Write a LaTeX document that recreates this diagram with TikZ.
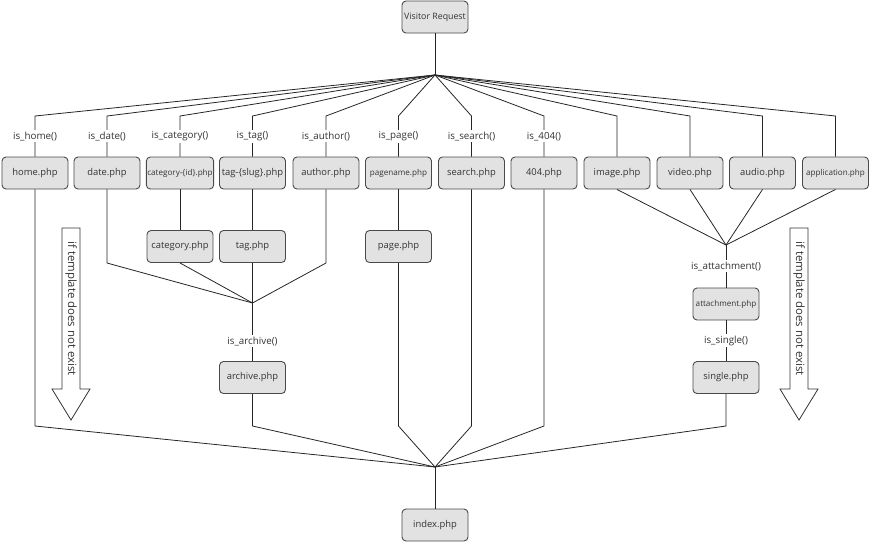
\documentclass[tikz,border=0pt]{standalone}
\usepackage{fontspec}
\setmainfont{Open Sans}
\definecolor{boxfill}{HTML}{E2E2E2}
\definecolor{boxdraw}{HTML}{4A4A4A}
\definecolor{txt}{HTML}{333333}
\begin{document}
\begin{tikzpicture}[x=1pt,y=-1pt,
  file/.style={draw=boxdraw,fill=boxfill,rounded corners=4pt,line width=0.9pt,
    minimum width=66pt,minimum height=32pt,inner sep=1pt,text=txt,font=\fontsize{9.4}{11}\selectfont},
  smallfile/.style={file,font=\fontsize{8.1}{9}\selectfont},
  lbl/.style={fill=white,inner sep=1.5pt,text=txt,font=\fontsize{9.8}{11}\selectfont},
  conn/.style={draw=black!85,line width=0.8pt},
  bigarrow/.style={draw=black!80,fill=white,line width=0.8pt}
]
\useasboundingbox (0,0) rectangle (870,542);

% nodes
\node[file,font=\fontsize{8.8}{10}\selectfont] (visitor) at (435,17) {Visitor Request};
\coordinate (hub) at (435,75);
\coordinate (elb) at (0,116);

\node[file] (home) at (35,173) {home.php};
\node[file] (date) at (107,173) {date.php};
\node[smallfile] (catid) at (180,173) {category-\{id\}.php};
\node[file] (tagslug) at (252.5,173) {tag-\{slug\}.php};
\node[file] (author) at (326,173) {author.php};
\node[smallfile] (pagename) at (398.5,173) {pagename.php};
\node[file] (search) at (471.5,173) {search.php};
\node[file] (e404) at (544,173) {404.php};
\node[file] (image) at (617,173) {image.php};
\node[file] (video) at (690,173) {video.php};
\node[file] (audio) at (762.5,173) {audio.php};
\node[smallfile] (application) at (835.5,173) {application.php};

\node[file] (category) at (180,246.5) {category.php};
\node[file] (tag) at (252.5,246.5) {tag.php};
\node[file] (page) at (398.5,246.5) {page.php};

\coordinate (archhub) at (252.5,303);
\node[file] (archive) at (252.5,377.5) {archive.php};

\coordinate (atthub) at (726,245);
\node[smallfile] (attachment) at (726,304) {attachment.php};
\node[file] (single) at (726,377.5) {single.php};

\coordinate (idxhub) at (435,467);
\node[file] (index) at (435,525) {index.php};

\coordinate (upper) at (0,263);
\coordinate (lower) at (0,426);

% visitor to hub
\draw[conn] (visitor.south) -- (hub);

% hub to top row
\draw[conn] (hub) -- (home.north |- elb) -- node[lbl]{is\_home()} (home.north);
\draw[conn] (hub) -- (date.north |- elb) -- node[lbl]{is\_date()} (date.north);
\draw[conn] (hub) -- (catid.north |- elb) -- node[lbl]{is\_category()} (catid.north);
\draw[conn] (hub) -- (tagslug.north |- elb) -- node[lbl]{is\_tag()} (tagslug.north);
\draw[conn] (hub) -- (author.north |- elb) -- node[lbl]{is\_author()} (author.north);
\draw[conn] (hub) -- (pagename.north |- elb) -- node[lbl]{is\_page()} (pagename.north);
\draw[conn] (hub) -- (search.north |- elb) -- node[lbl]{is\_search()} (search.north);
\draw[conn] (hub) -- (e404.north |- elb) -- node[lbl]{is\_404()} (e404.north);
\draw[conn] (hub) -- (image.north |- elb) -- (image.north);
\draw[conn] (hub) -- (video.north |- elb) -- (video.north);
\draw[conn] (hub) -- (audio.north |- elb) -- (audio.north);
\draw[conn] (hub) -- (application.north |- elb) -- (application.north);

% second row
\draw[conn] (catid.south) -- (category.north);
\draw[conn] (tagslug.south) -- (tag.north);
\draw[conn] (pagename.south) -- (page.north);

% archive merge
\draw[conn] (date.south) -- (date.south |- upper) -- (archhub);
\draw[conn] (category.south) -- (archhub);
\draw[conn] (tag.south) -- (archhub);
\draw[conn] (author.south) -- (author.south |- upper) -- (archhub);
\draw[conn] (archhub) -- node[lbl,pos=0.66]{is\_archive()} (archive.north);

% attachment merge
\draw[conn] (image.south) -- (atthub);
\draw[conn] (video.south) -- (atthub);
\draw[conn] (audio.south) -- (atthub);
\draw[conn] (application.south) -- (atthub);
\draw[conn] (atthub) -- node[lbl]{is\_attachment()} (attachment.north);
\draw[conn] (attachment.south) -- node[lbl]{is\_single()} (single.north);

% to index
\draw[conn] (home.south) -- (home.south |- lower) -- (idxhub);
\draw[conn] (archive.south) -- (archive.south |- lower) -- (idxhub);
\draw[conn] (page.south) -- (page.south |- lower) -- (idxhub);
\draw[conn] (search.south) -- (search.south |- lower) -- (idxhub);
\draw[conn] (e404.south) -- (e404.south |- lower) -- (idxhub);
\draw[conn] (single.south) -- (single.south |- lower) -- (idxhub);
\draw[conn] (idxhub) -- (index.north);

% big arrows
\draw[bigarrow] (62,228) -- (80,228) -- (80,389) -- (90,389) -- (71,420) -- (52,389) -- (62,389) -- cycle;
\node[rotate=-90,text=txt,font=\fontsize{11.4}{13}\selectfont,inner sep=0pt] (leftnote) at (71,308.5) {if template does not exist};
\draw[bigarrow] (790,228) -- (808,228) -- (808,389) -- (818,389) -- (799,420) -- (780,389) -- (790,389) -- cycle;
\node[rotate=-90,text=txt,font=\fontsize{11.4}{13}\selectfont,inner sep=0pt] (rightnote) at (799,308.5) {if template does not exist};
\end{tikzpicture}
\end{document}
